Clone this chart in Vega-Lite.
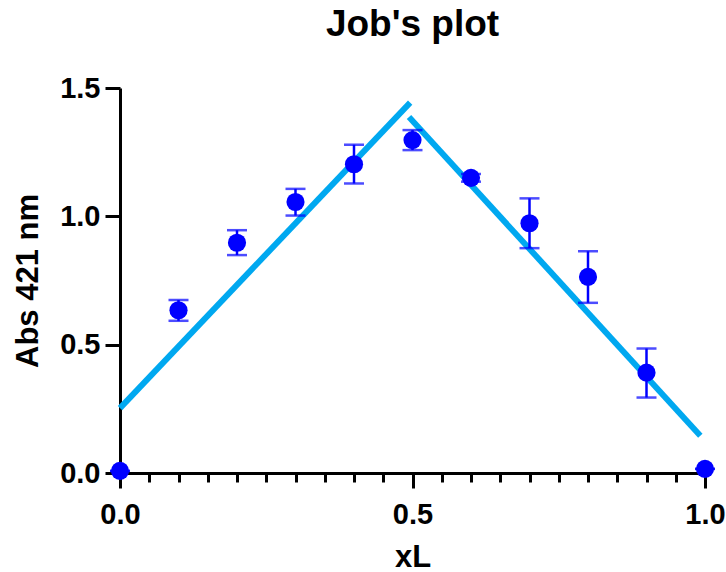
{
  "$schema": "https://vega.github.io/schema/vega-lite/v6.json",
  "width": 585,
  "height": 385,
  "autosize": {"type": "none"},
  "padding": {"left": 120, "top": 88, "right": 21, "bottom": 99},
  "background": "white",
  "config": {
    "view": {"stroke": null},
    "font": "Liberation Sans"
  },
  "title": {
    "text": "Job's plot",
    "fontSize": 37,
    "fontWeight": "bold",
    "font": "Liberation Sans",
    "color": "black",
    "anchor": "middle",
    "offset": 30
  },
  "datasets": {
    "points": [
      {"xL": 0.0, "abs": 0.008, "lo": 0.008, "hi": 0.008},
      {"xL": 0.1, "abs": 0.634, "lo": 0.593, "hi": 0.674},
      {"xL": 0.2, "abs": 0.897, "lo": 0.849, "hi": 0.946},
      {"xL": 0.3, "abs": 1.056, "lo": 1.003, "hi": 1.107},
      {"xL": 0.4, "abs": 1.203, "lo": 1.128, "hi": 1.279},
      {"xL": 0.5, "abs": 1.297, "lo": 1.258, "hi": 1.336},
      {"xL": 0.6, "abs": 1.150, "lo": 1.135, "hi": 1.165},
      {"xL": 0.7, "abs": 0.973, "lo": 0.876, "hi": 1.070},
      {"xL": 0.8, "abs": 0.764, "lo": 0.663, "hi": 0.864},
      {"xL": 0.9, "abs": 0.391, "lo": 0.294, "hi": 0.485},
      {"xL": 1.0, "abs": 0.016, "lo": 0.016, "hi": 0.016}
    ],
    "fit": [
      {"seg": "left", "xL": 0.0, "abs": 0.253},
      {"seg": "left", "xL": 0.496, "abs": 1.443},
      {"seg": "right", "xL": 0.494, "abs": 1.387},
      {"seg": "right", "xL": 0.992, "abs": 0.145}
    ]
  },
  "encoding": {
    "x": {
      "field": "xL",
      "type": "quantitative",
      "scale": {"domain": [0, 1], "nice": false, "zero": false},
      "axis": {
        "title": "xL",
        "values": [0, 0.05, 0.1, 0.15, 0.2, 0.25, 0.3, 0.35, 0.4, 0.45, 0.5, 0.55, 0.6, 0.65, 0.7, 0.75, 0.8, 0.85, 0.9, 0.95, 1],
        "labelExpr": "(datum.value == 0 || datum.value == 0.5 || datum.value == 1) ? format(datum.value, '.1f') : ''",
        "tickSize": {"condition": {"test": "datum.value == 0 || datum.value == 0.5 || datum.value == 1", "value": 15}, "value": 9},
        "grid": false,
        "domainColor": "black",
        "domainWidth": 3,
        "tickColor": "black",
        "tickWidth": 3,
        "labelFont": "Liberation Sans",
        "labelFontSize": 29,
        "labelFontWeight": "bold",
        "labelColor": "black",
        "labelPadding": 12,
        "labelFlush": false,
        "labelOverlap": false,
        "titleFont": "Liberation Sans",
        "titleFontSize": 31,
        "titleFontWeight": "bold",
        "titleColor": "black",
        "titlePadding": 13
      }
    },
    "y": {
      "field": "abs",
      "type": "quantitative",
      "scale": {"domain": [0, 1.5], "nice": false},
      "axis": {
        "title": "Abs 421 nm",
        "values": [0, 0.5, 1, 1.5],
        "format": ".1f",
        "tickSize": 15,
        "grid": false,
        "domainColor": "black",
        "domainWidth": 3,
        "tickColor": "black",
        "tickWidth": 3,
        "labelFont": "Liberation Sans",
        "labelFontSize": 29,
        "labelFontWeight": "bold",
        "labelColor": "black",
        "labelPadding": 5,
        "labelFlush": false,
        "titleFont": "Liberation Sans",
        "titleFontSize": 31,
        "titleFontWeight": "bold",
        "titleColor": "black",
        "titlePadding": 15
      }
    }
  },
  "layer": [
    {
      "data": {"name": "fit"},
      "mark": {"type": "line", "color": "#00A8F0", "strokeWidth": 6, "strokeCap": "butt"},
      "encoding": {
        "detail": {"field": "seg", "type": "nominal"}
      }
    },
    {
      "data": {"name": "points"},
      "mark": {"type": "rule", "color": "#0000FF", "strokeWidth": 2.5},
      "encoding": {
        "y": {"field": "lo", "type": "quantitative"},
        "y2": {"field": "hi"}
      }
    },
    {
      "data": {"name": "points"},
      "mark": {"type": "tick", "orient": "horizontal", "color": "#0000FF", "size": 20, "thickness": 2.5},
      "encoding": {
        "y": {"field": "lo", "type": "quantitative"}
      }
    },
    {
      "data": {"name": "points"},
      "mark": {"type": "tick", "orient": "horizontal", "color": "#0000FF", "size": 20, "thickness": 2.5},
      "encoding": {
        "y": {"field": "hi", "type": "quantitative"}
      }
    },
    {
      "data": {"name": "points"},
      "mark": {"type": "point", "filled": true, "shape": "circle", "color": "#0000FF", "opacity": 1, "size": 330},
      "encoding": {}
    }
  ]
}
